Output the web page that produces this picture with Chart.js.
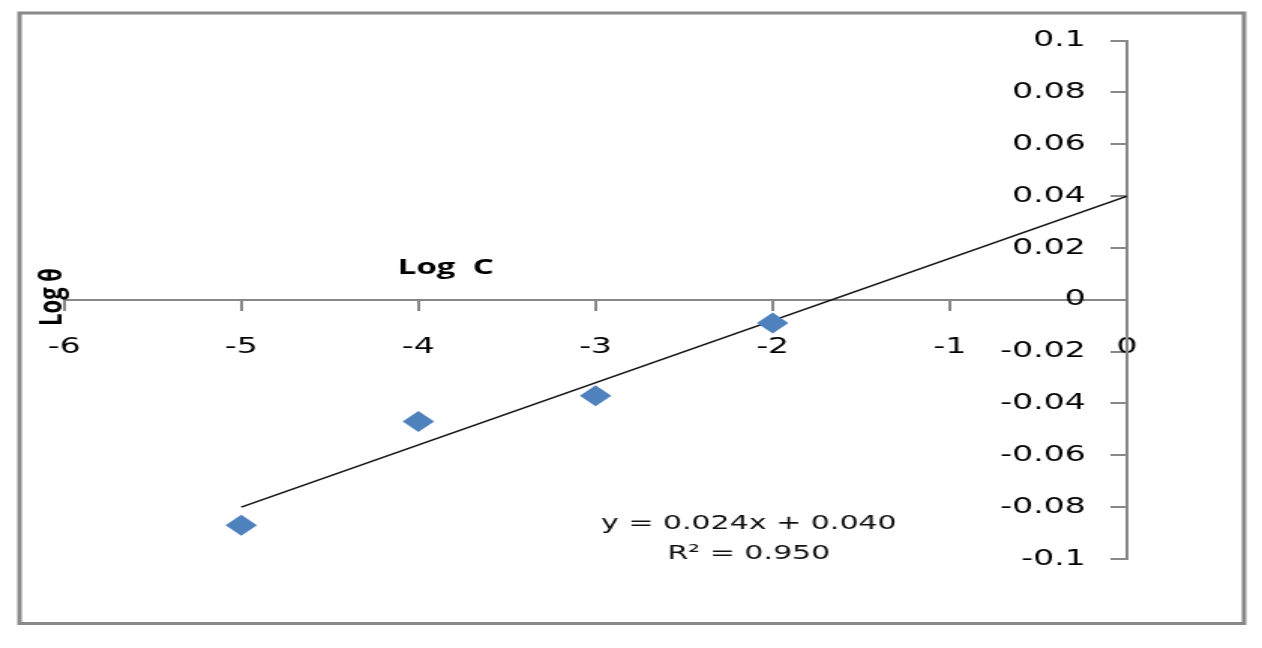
<!DOCTYPE html>
<html>
<head>
<meta charset="utf-8">
<script src="https://cdn.jsdelivr.net/npm/chart.js@4.4.0/dist/chart.umd.min.js"></script>
<style>
  html, body { margin: 0; padding: 0; background: #fff; }
  #chart { display: block; }
</style>
</head>
<body>
<!-- the original picture is stretched sideways, so the canvas is drawn narrow and widened by css -->
<canvas id="chart" width="841" height="648" style="width:1262px;height:648px"></canvas>
<script>
// measured points
const logC = [-5, -4, -3, -2];
const logTheta = [-0.087, -0.047, -0.037, -0.009];

// linear trendline end points
const trendX = [-5, 0];
const trendY = [-0.080, 0.040];

const xTicks = [-6, -5, -4, -3, -2, -1, 0];
const xTickLabels = ['-6', '-5', '-4', '-3', '-2', '-1', '0'];
const yTicks = [-0.1, -0.08, -0.06, -0.04, -0.02, 0, 0.02, 0.04, 0.06, 0.08, 0.1];
const yTickLabels = ['-0.1', '-0.08', '-0.06', '-0.04', '-0.02', '0', '0.02', '0.04', '0.06', '0.08', '0.1'];

const equationLines = ['y = 0.024x + 0.040', 'R\u00b2 = 0.950'];

const axisGray = '#888888';
const tickFont = "22px 'DejaVu Sans', sans-serif";

// frame, y tick labels (left of the crossing axis), axis titles, trendline label
const extras = {
    id: 'extras',
    afterDraw(chart) {
        const ctx = chart.ctx;
        const xs = chart.scales.x;
        const ys = chart.scales.y;
        ctx.save();
        ctx.strokeStyle = axisGray;
        ctx.lineWidth = 3;
        ctx.strokeRect(13, 13, 816, 610.5);

        // y labels sit left of the tick marks
        const axisX = xs.getPixelForValue(0);
        ctx.fillStyle = '#000';
        ctx.font = tickFont;
        ctx.textAlign = 'right';
        ctx.textBaseline = 'middle';
        yTicks.forEach((v, i) => {
            ctx.fillText(yTickLabels[i], axisX - 27.5, ys.getPixelForValue(v));
        });

        ctx.textAlign = 'center';
        ctx.font = "bold 22px 'Open Sans', sans-serif";
        ctx.fillText('Log  C', 297, 268);

        ctx.save();
        ctx.translate(35, 297);
        ctx.rotate(-Math.PI / 2);
        ctx.font = "bold 22px 'Open Sans', sans-serif";
        ctx.fillText('Log \u03b8', 0, 0);
        ctx.restore();

        ctx.fillStyle = '#111';
        ctx.font = "20px 'DejaVu Sans', sans-serif";
        const cx = 499;
        ctx.fillText(equationLines[0], cx, ys.getPixelForValue(-0.0865));
        ctx.fillText(equationLines[1], cx, ys.getPixelForValue(-0.098));
        ctx.restore();
    }
};

new Chart(document.getElementById('chart'), {
    type: 'scatter',
    data: {
        datasets: [
            {
                label: 'Log \u03b8',
                data: logC.map((x, i) => ({ x: x, y: logTheta[i] })),
                pointStyle: 'rectRot',
                pointRadius: 10.5,
                pointHoverRadius: 10.5,
                backgroundColor: '#4F81BD',
                borderColor: '#4F81BD',
                borderWidth: 0
            },
            {
                label: 'Linear',
                data: trendX.map((x, i) => ({ x: x, y: trendY[i] })),
                showLine: true,
                pointRadius: 0,
                borderColor: '#111',
                borderWidth: 1.5
            }
        ]
    },
    options: {
        responsive: false,
        animation: false,
        events: [],
        layout: { padding: { left: 42.7, right: 90, top: 40.5, bottom: 89 } },
        plugins: {
            legend: { display: false },
            tooltip: { enabled: false }
        },
        scales: {
            x: {
                type: 'linear',
                min: -6,
                max: 0,
                position: { y: 0 },
                afterBuildTicks: s => { s.ticks = xTicks.map(v => ({ value: v })); },
                ticks: {
                    autoSkip: false,
                    maxRotation: 0,
                    padding: 24,
                    color: '#000',
                    font: { family: "'DejaVu Sans', sans-serif", size: 22 },
                    callback: (v, i) => xTickLabels[i]
                },
                grid: { drawOnChartArea: false, drawTicks: true, tickLength: 10, color: axisGray, lineWidth: 2 },
                border: { color: axisGray, width: 2 }
            },
            y: {
                type: 'linear',
                min: -0.1,
                max: 0.1,
                position: { x: 0 },
                afterBuildTicks: s => { s.ticks = yTicks.map(v => ({ value: v })); },
                ticks: { display: false },
                grid: { drawOnChartArea: false, drawTicks: true, tickLength: 10, color: axisGray, lineWidth: 2 },
                border: { color: axisGray, width: 2 }
            }
        }
    },
    plugins: [extras]
});
</script>
</body>
</html>
